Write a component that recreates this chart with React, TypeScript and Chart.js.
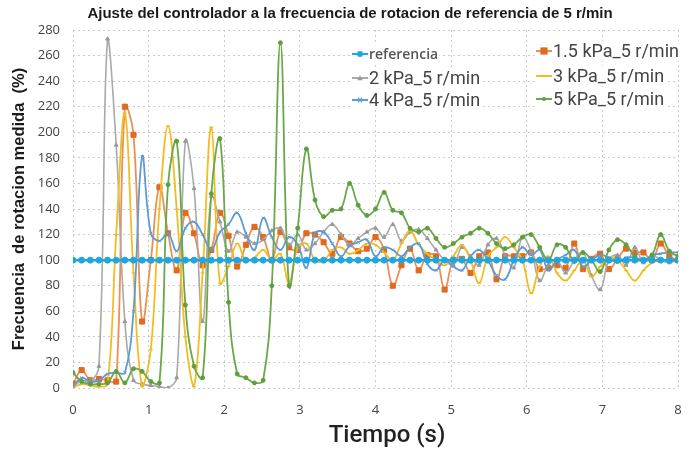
import React, { useEffect, useRef } from 'react';
import { Chart, registerables } from 'chart.js';

Chart.register(...registerables);

// time (s)
const TIME = [
  0, 0.114, 0.229, 0.343, 0.457, 0.571, 0.686, 0.8, 0.914, 1.029,
  1.143, 1.257, 1.371, 1.486, 1.6, 1.714, 1.829, 1.943, 2.057, 2.171,
  2.286, 2.4, 2.514, 2.629, 2.743, 2.857, 2.971, 3.086, 3.2, 3.314,
  3.429, 3.543, 3.657, 3.771, 3.886, 4.0, 4.114, 4.229, 4.343, 4.457,
  4.571, 4.686, 4.8, 4.914, 5.029, 5.143, 5.257, 5.371, 5.486, 5.6,
  5.714, 5.829, 5.943, 6.057, 6.171, 6.286, 6.4, 6.514, 6.629, 6.743,
  6.857, 6.971, 7.086, 7.2, 7.314, 7.429, 7.543, 7.657, 7.771, 7.886, 8.0,
];

const REFERENCIA = [
  100, 100, 100, 100, 100, 100, 100, 100, 100, 100,
  100, 100, 100, 100, 100, 100, 100, 100, 100, 100,
  100, 100, 100, 100, 100, 100, 100, 100, 100, 100,
  100, 100, 100, 100, 100, 100, 100, 100, 100, 100,
  100, 100, 100, 100, 100, 100, 100, 100, 100, 100,
  100, 100, 100, 100, 100, 100, 100, 100, 100, 100,
  100, 100, 100, 100, 100, 100, 100, 100, 100, 100, 100,
];

const KPA_1_5 = [
  3, 14, 6, 7, 6, 5, 220, 198, 52, 100,
  157, 121, 92, 137, 121, 96, 108, 137, 119, 95,
  112, 126, 118, 100, 122, 110, 108, 121, 120, 114,
  105, 118, 113, 107, 109, 118, 108, 80, 96, 109,
  92, 104, 103, 77, 100, 101, 90, 103, 106, 85,
  103, 103, 103, 106, 93, 94, 96, 94, 113, 93,
  101, 105, 93, 101, 109, 106, 106, 100, 113, 103, 100,
];

const KPA_2 = [
  0, 6, 5, 17, 273, 190, 52, 6, 3, 2,
  1, 0, 8, 193, 156, 52, 150, 130, 107, 122,
  118, 113, 116, 123, 125, 112, 120, 108, 113, 122,
  128, 120, 112, 117, 122, 125, 118, 128, 115, 122,
  124, 117, 108, 100, 96, 110, 103, 96, 112, 117,
  104, 94, 118, 107, 84, 96, 100, 90, 100, 106,
  88, 77, 100, 104, 96, 110, 98, 104, 100, 98, 100,
];

const KPA_3 = [
  0, 3, 2, 1, 3, 120, 215, 90, 1, 30,
  140, 205, 140, 40, 1, 90, 204, 82, 95, 113,
  100, 102, 108, 100, 105, 82, 110, 113, 100, 99,
  108, 110, 105, 108, 113, 112, 106, 100, 113, 123,
  112, 105, 100, 96, 103, 112, 100, 82, 103, 110,
  118, 110, 100, 74, 95, 103, 90, 84, 92, 100,
  87, 95, 102, 100, 92, 84, 92, 98, 100, 99, 100,
];

const KPA_4 = [
  1, 8, 5, 6, 11, 12, 12, 60, 181, 121,
  115, 121, 107, 125, 130, 120, 108, 122, 128, 137,
  121, 108, 133, 118, 108, 118, 112, 94, 121, 122,
  113, 103, 111, 114, 116, 103, 110, 108, 103, 110,
  113, 97, 92, 100, 95, 92, 103, 108, 100, 88,
  85, 100, 110, 104, 108, 92, 100, 104, 108, 95,
  100, 104, 102, 98, 102, 102, 100, 104, 105, 106, 106,
];

const KPA_5 = [
  12, 5, 3, 3, 4, 13, 4, 15, 13, 5,
  4, 159, 193, 65, 17, 8, 152, 195, 67, 11,
  8, 4, 6, 80, 270, 80, 125, 187, 147, 134,
  139, 140, 160, 143, 135, 140, 153, 139, 137, 125,
  122, 125, 117, 110, 113, 118, 121, 125, 121, 113,
  109, 112, 118, 120, 110, 100, 112, 110, 99, 106,
  100, 91, 108, 116, 112, 103, 100, 104, 120, 107, 103,
];

const TITLE = 'Ajuste del controlador a la frecuencia de rotacion de referencia de 5 r/min';
const Y_TITLE = 'Frecuencia  de rotacion medida  (%)';
const X_TITLE = 'Tiempo (s)';
const LABELS = ['referencia', '1.5 kPa_5 r/min', '2 kPa_5 r/min', '3 kPa_5 r/min', '4 kPa_5 r/min', '5 kPa_5 r/min'];

const toPoints = (ys: number[]) => ys.map((y, i) => ({ x: TIME[i], y }));

type Sty = { color: string; marker: string; pointStyle: any; radius: number; width: number };
const STYLES: Sty[] = [
  { color: '#1FA6E0', marker: '#1FA6E0', pointStyle: 'circle', radius: 3, width: 2.5 },
  { color: '#E89058', marker: '#E06A1E', pointStyle: 'rect', radius: 3.6, width: 1.8 },
  { color: '#A9A9A9', marker: '#999999', pointStyle: 'triangle', radius: 2.2, width: 1.6 },
  { color: '#F2BD22', marker: '#EDB41A', pointStyle: 'line', radius: 2, width: 1.8 },
  { color: '#5E9BD3', marker: '#5E9BD3', pointStyle: 'crossRot', radius: 2, width: 1.8 },
  { color: '#6BA84A', marker: '#5E9E3E', pointStyle: 'circle', radius: 2, width: 1.8 },
];

const LEGEND_POS = [
  { x: 352, y: 54, font: '600 14px "Open Sans"', color: '#555' },
  { x: 536, y: 51, font: '18px Roboto', color: '#444' },
  { x: 352, y: 78, font: '18px Roboto', color: '#444' },
  { x: 536, y: 76, font: '18px Roboto', color: '#444' },
  { x: 352, y: 100, font: '18px Roboto', color: '#444' },
  { x: 536, y: 99, font: '18px Roboto', color: '#444' },
];

function drawMarker(ctx: CanvasRenderingContext2D, s: Sty, x: number, y: number) {
  ctx.save();
  ctx.fillStyle = s.marker;
  ctx.strokeStyle = s.marker;
  ctx.lineWidth = 1.2;
  const r = s.radius;
  ctx.beginPath();
  if (s.pointStyle === 'rect') {
    ctx.fillRect(x - r, y - r, 2 * r, 2 * r);
  } else if (s.pointStyle === 'circle') {
    ctx.arc(x, y, r, 0, Math.PI * 2);
    ctx.fill();
  } else if (s.pointStyle === 'triangle') {
    ctx.moveTo(x, y - r * 1.3);
    ctx.lineTo(x + r * 1.2, y + r);
    ctx.lineTo(x - r * 1.2, y + r);
    ctx.closePath();
    ctx.fill();
  } else if (s.pointStyle === 'crossRot') {
    ctx.moveTo(x - r, y - r); ctx.lineTo(x + r, y + r);
    ctx.moveTo(x + r, y - r); ctx.lineTo(x - r, y + r);
    ctx.stroke();
  } else {
    ctx.moveTo(x - r * 1.5, y); ctx.lineTo(x + r * 1.5, y);
    ctx.stroke();
  }
  ctx.restore();
}

const overlayPlugin = {
  id: 'overlay',
  afterDraw(chart: any) {
    const ctx: CanvasRenderingContext2D = chart.ctx;
    ctx.save();
    // title
    ctx.font = 'bold 15px "Liberation Sans"';
    ctx.fillStyle = '#1a1a1a';
    ctx.textAlign = 'center';
    ctx.textBaseline = 'middle';
    ctx.fillText(TITLE, 350, 14);
    // x title
    ctx.font = '500 24px Roboto';
    ctx.fillStyle = '#222';
    ctx.fillText(X_TITLE, 387, 436);
    // legend
    ctx.textAlign = 'left';
    LEGEND_POS.forEach((p, i) => {
      const s = STYLES[i];
      ctx.font = p.font;
      const w = ctx.measureText(LABELS[i]).width;
      ctx.fillStyle = '#ffffff';
      ctx.fillRect(p.x - 1, p.y - 10, w + 19, 20);
      ctx.strokeStyle = s.color;
      ctx.lineWidth = 2;
      ctx.beginPath();
      ctx.moveTo(p.x, p.y);
      ctx.lineTo(p.x + 16, p.y);
      ctx.stroke();
      drawMarker(ctx, s, p.x + 8, p.y);
      ctx.fillStyle = p.color;
      ctx.textBaseline = 'middle';
      ctx.fillText(LABELS[i], p.x + 17, p.y + 1);
    });
    ctx.restore();
  },
};

export default function App() {
  const ref = useRef<HTMLCanvasElement | null>(null);
  useEffect(() => {
    if (!ref.current) return;
    const series = [REFERENCIA, KPA_1_5, KPA_2, KPA_3, KPA_4, KPA_5];
    const datasets = series.map((ys, i) => ({
      label: LABELS[i],
      data: toPoints(ys),
      borderColor: STYLES[i].color,
      backgroundColor: STYLES[i].marker,
      pointBorderColor: STYLES[i].marker,
      pointBackgroundColor: STYLES[i].marker,
      pointStyle: STYLES[i].pointStyle,
      pointRadius: STYLES[i].radius,
      pointBorderWidth: 1,
      borderWidth: STYLES[i].width,
      tension: 0.4,
      fill: false,
      order: i === 0 ? 0 : 7 - i,
    }));
    const chart = new Chart(ref.current, {
      type: 'line',
      data: { datasets },
      options: {
        responsive: false,
        animation: false,
        devicePixelRatio: 1,
        layout: { padding: { top: 30, right: 21, left: 0, bottom: 0 } },
        plugins: { legend: { display: false }, title: { display: false }, tooltip: { enabled: false } },
        scales: {
          x: {
            type: 'linear',
            min: 0,
            max: 8,
            afterFit: (s: any) => { s.height = 64; },
            ticks: { stepSize: 1, color: '#444', font: { family: '"Open Sans"', size: 13 }, padding: 14 },
            grid: { color: '#cccccc', drawTicks: false, lineWidth: 1 },
            border: { display: false, dash: [2, 3] },
          },
          y: {
            min: 0,
            max: 280,
            afterFit: (s: any) => { s.width = 73; },
            ticks: { stepSize: 20, color: '#444', font: { family: '"Open Sans"', size: 13 }, padding: 13 },
            grid: { color: '#cccccc', drawTicks: false, lineWidth: 1 },
            border: { display: false, dash: [2, 3] },
            title: {
              display: true,
              text: Y_TITLE,
              color: '#1a1a1a',
              font: { family: '"Liberation Sans"', size: 16.5, weight: 'bold' },
              padding: { top: 10, bottom: 0 },
            },
          },
        },
      },
      plugins: [overlayPlugin],
    });
    return () => chart.destroy();
  }, []);
  return (
    <div style={{ position: 'fixed', left: 0, top: 0, width: 699, height: 452, background: '#fff' }}>
      <canvas ref={ref} width={699} height={452} />
    </div>
  );
}
